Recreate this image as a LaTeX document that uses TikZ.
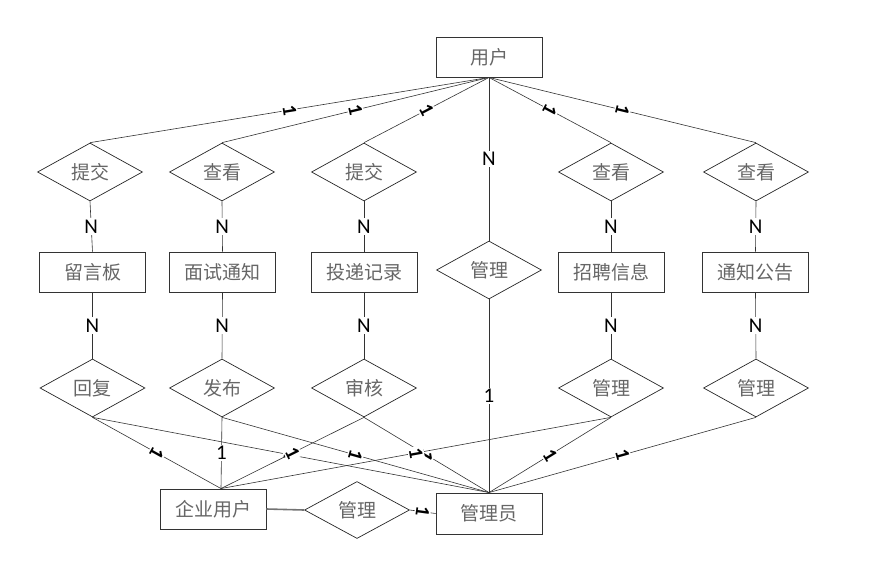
\documentclass[tikz,border=0pt]{standalone}
\usepackage{fontspec}
\newfontfamily\cjk{Noto Sans CJK SC}
\newfontfamily\lab{Carlito}
\usetikzlibrary{shapes.geometric}
\begin{document}
\begin{tikzpicture}[x=1pt,y=-1pt,
  entity/.style={draw=black!80, line width=0.9pt, minimum width=106pt, minimum height=40pt, inner sep=0pt,
    font=\cjk\fontsize{19}{19}\selectfont, text=black!60},
  rel/.style={diamond, draw=black!85, line width=0.7pt, minimum width=105pt, minimum height=58pt, inner sep=0pt,
    font=\cjk\fontsize{19}{19}\selectfont, text=black!60},
  conn/.style={draw=black!80, line width=0.6pt},
  thickconn/.style={draw=black!55, line width=1.6pt},
  lbl/.style={fill=white, inner sep=1.5pt, font=\lab\fontsize{21}{21}\selectfont, text=black},
  rl/.style={lbl, sloped, rotate=-90, pos=0.5, font=\lab\bfseries\fontsize{20}{20}\selectfont},
  ul/.style={lbl, pos=0.5},
]
\useasboundingbox (0,0) rectangle (871,582);

% entities
\node[entity] (user) at (489,57) {用户};
\node[entity] (r1) at (92.5,272) {留言板};
\node[entity] (r2) at (222.5,272) {面试通知};
\node[entity] (r3) at (364,272) {投递记录};
\node[entity] (r5) at (611,272) {招聘信息};
\node[entity] (r6) at (755.5,272) {通知公告};
\node[entity] (ent) at (213,509) {企业用户};
\node[entity, minimum height=41pt] (adm) at (489,513.5) {管理员};

% relations
\node[rel] (d1) at (90,172) {提交};
\node[rel] (d2) at (222,172) {查看};
\node[rel] (d3) at (364,172) {提交};
\node[rel] (d5) at (611,172) {查看};
\node[rel] (d6) at (756,172) {查看};
\node[rel] (mm) at (489,270) {管理};
\node[rel] (b1) at (92.5,388) {回复};
\node[rel] (b2) at (222,388) {发布};
\node[rel] (b3) at (364,388) {审核};
\node[rel] (b5) at (611,388) {管理};
\node[rel] (b6) at (756,388) {管理};
\node[rel, minimum height=57pt] (bm) at (357,510) {管理};

\coordinate (entTop) at ([xshift=8pt]ent.north);

% user to top relations
\draw[conn] (user.south) -- node[rl]{1} (d1.north);
\draw[conn] (user.south) -- node[rl]{1} (d2.north);
\draw[conn] (user.south) -- node[rl]{1} (d3.north);
\draw[conn] (user.south) -- node[rl]{1} (d5.north);
\draw[conn] (user.south) -- node[rl]{1} (d6.north);
\draw[conn] (user.south) -- node[ul]{N} (mm.north);

% relations to entities
\foreach \i in {1,2,3,5,6}{
  \draw[conn] (d\i.south) -- node[ul]{N} (r\i.north);
  \draw[conn] (r\i.south) -- node[ul]{N} (b\i.north);
}
\draw[conn] (mm.south) -- node[ul]{1} (adm.north);

% bottom relations
\draw[conn] (b1.south) -- node[rl]{1} (entTop);
\draw[conn] (b1.south) -- node[rl]{1} (adm.north);
\draw[conn] (b2.south) -- node[ul]{1} (entTop);
\draw[conn] (b2.south) -- node[rl]{1} (adm.north);
\draw[conn] (b3.south) -- node[rl]{1} (entTop);
\draw[conn] (b3.south) -- node[rl]{1} (adm.north);
\draw[conn] (b5.south) -- node[rl]{1} (entTop);
\draw[conn] (b5.south) -- node[rl]{1} (adm.north);
\draw[conn] (b6.south) -- node[rl]{1} (adm.north);

\draw[thickconn] (ent.east) -- (bm.west);
\draw[conn] (bm.east) -- node[rl]{1} (adm.west);
\end{tikzpicture}
\end{document}
